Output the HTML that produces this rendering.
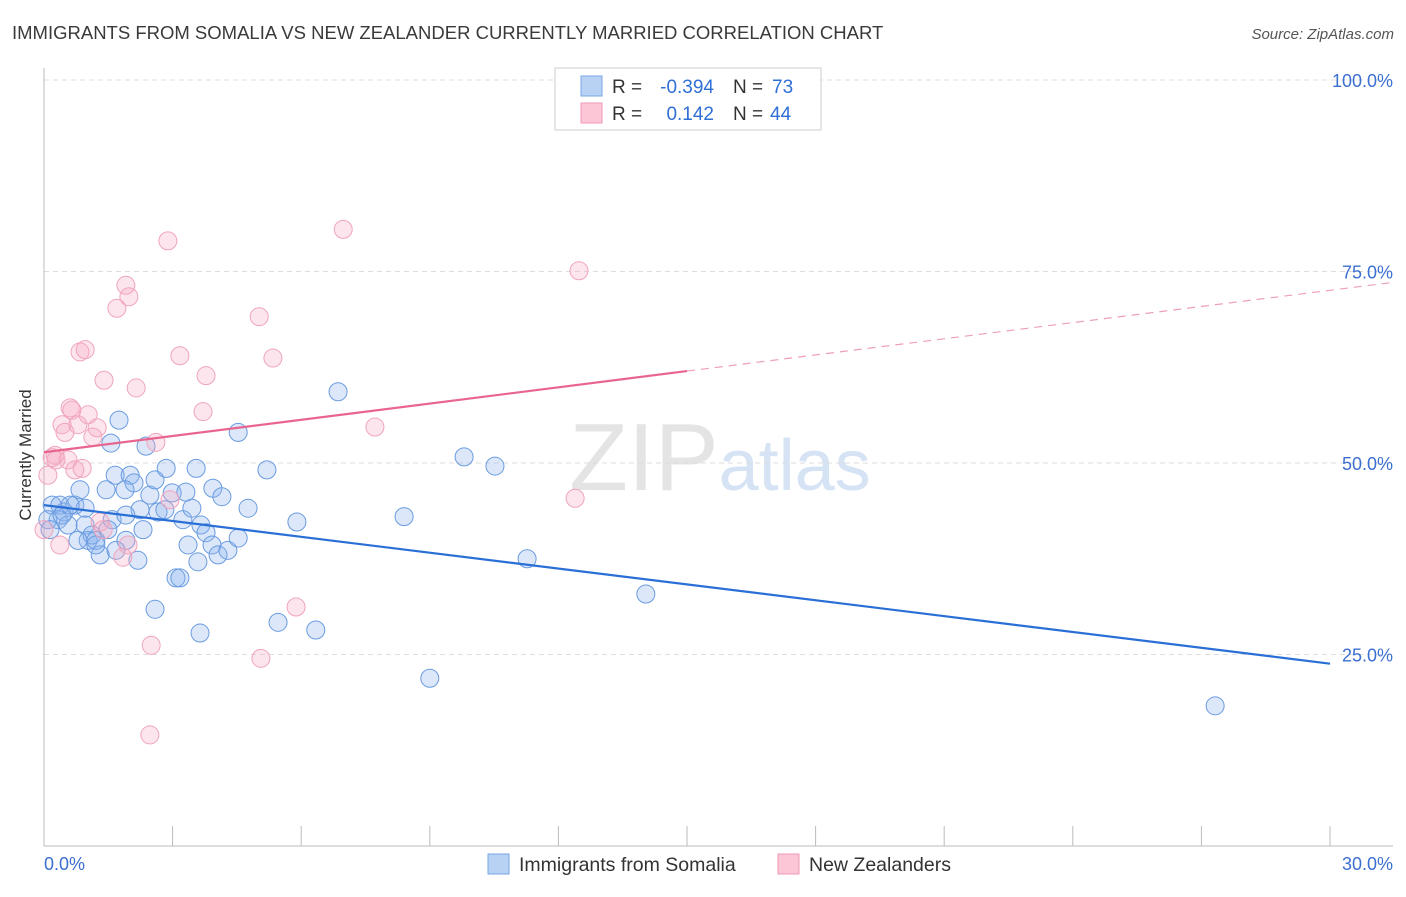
<!DOCTYPE html>
<html><head><meta charset="utf-8"><style>
body{margin:0;background:#fff;font-family:"Liberation Sans",sans-serif}
svg text{font-family:"Liberation Sans",sans-serif}
</style></head><body>
<svg id="chart" width="1406" height="892" xmlns="http://www.w3.org/2000/svg">
<text x="12" y="39" font-size="18.5" fill="#3a3a3a">IMMIGRANTS FROM SOMALIA VS NEW ZEALANDER CURRENTLY MARRIED CORRELATION CHART</text>
<text x="1394" y="39" font-size="15" fill="#555" text-anchor="end" font-style="italic">Source: ZipAtlas.com</text>
<text x="720" y="490" font-size="96" fill="#e4e4e4" text-anchor="middle" font-family="Liberation Serif">ZIP<tspan fill="#d5e3f5" font-family="Liberation Sans" font-size="72">atlas</tspan></text>
<g id="grid"></g><g id="axes"></g><g id="marks"></g><g id="lines"></g>
<text transform="translate(31,455) rotate(-90)" font-size="17" fill="#333" text-anchor="middle">Currently Married</text>
<g>
<rect x="555" y="68" width="266" height="62" fill="#fff" stroke="#ccc"/>
<rect x="581" y="76" width="21" height="20" fill="#b8d2f4" stroke="#7aa6e6"/>
<rect x="581" y="103" width="21" height="20" fill="#fcc6d6" stroke="#ef9ab4"/>
<text x="612" y="93" font-size="19" fill="#333">R =</text>
<text x="714" y="93" font-size="19" fill="#2f6fd6" text-anchor="end">-0.394</text>
<text x="733" y="93" font-size="19" fill="#333">N =</text>
<text x="772" y="93" font-size="19" fill="#2f6fd6">73</text>
<text x="612" y="120" font-size="19" fill="#333">R =</text>
<text x="714" y="120" font-size="19" fill="#2f6fd6" text-anchor="end">0.142</text>
<text x="733" y="120" font-size="19" fill="#333">N =</text>
<text x="770" y="120" font-size="19" fill="#2f6fd6">44</text>
</g>
<g>
<rect x="488" y="854" width="21" height="20" fill="#b8d2f4" stroke="#7aa6e6"/>
<text x="519" y="871" font-size="19.5" fill="#333">Immigrants from Somalia</text>
<rect x="778" y="854" width="21" height="20" fill="#fcc6d6" stroke="#ef9ab4"/>
<text x="809" y="871" font-size="19.5" fill="#333">New Zealanders</text>
</g>
</svg>
<script>
const blueX=[0.19,0.37,0.47,0.33,0.56,0.72,0.84,0.96,1.03,1.12,1.21,1.31,0.79,1.45,1.59,1.66,1.75,1.56,2.01,2.10,2.24,2.31,1.91,1.91,2.19,1.68,2.38,2.47,2.59,2.66,2.85,2.99,3.08,3.17,3.24,3.31,3.36,3.45,3.55,3.59,3.66,3.64,3.78,3.92,3.94,4.06,4.15,4.29,4.53,4.53,4.76,5.20,5.46,5.90,6.34,6.86,8.40,9.00,9.80,10.52,11.27,14.04,27.32,2.59,0.09,0.14,0.42,1.21,0.96,0.61,2.82,1.89,1.49];
const blueY=[44.5,44.5,43.6,42.6,41.9,44.5,46.5,41.9,39.9,40.6,39.9,38.0,39.9,46.5,42.6,48.4,55.6,52.6,48.4,47.4,43.9,41.3,43.2,39.9,37.3,38.6,52.2,45.8,47.8,43.6,49.3,46.1,35.0,35.0,42.6,46.2,39.3,44.1,49.3,37.1,41.9,27.8,40.9,39.3,46.7,38.0,45.6,38.6,40.2,54.0,44.1,49.1,29.2,42.3,28.2,59.3,43.0,21.9,50.8,49.6,37.5,32.9,18.3,30.9,42.6,41.3,43.2,39.3,44.1,44.5,43.9,46.5,41.3];
const pinkX=[0.09,0.19,0.28,0.37,0.42,0.49,0.56,0.61,0.65,0.72,0.79,0.84,0.89,0.96,1.03,1.14,1.24,1.31,1.38,1.40,1.70,1.91,1.98,2.15,1.84,1.96,2.50,2.47,2.61,2.89,2.94,3.17,3.71,3.78,5.02,5.06,5.34,5.88,6.98,7.72,12.39,12.48,0.0,0.26];
const pinkY=[48.4,50.7,50.4,39.3,55.0,54.0,50.4,57.2,56.9,49.1,55.0,64.5,49.3,64.8,56.3,53.4,54.6,42.3,41.3,60.8,70.2,73.2,71.7,59.8,37.7,39.3,26.2,14.5,52.7,79.0,45.2,64.0,56.7,61.4,69.1,24.5,63.7,31.2,80.5,54.7,45.4,75.1,41.3,51.0];
const yTicks=[25,50,75,100];
const yTickLabels=["25.0%","50.0%","75.0%","100.0%"];
const xTicks=[0,3,6,9,12,15,18,21,24,27,30];
const blueTrend=[[0,44.5],[30,23.8]];
const pinkTrendSolid=[[0,51.4],[15,62.0]];
const pinkTrendDash=[[15,62.0],[31.5,73.6]];

const NS="http://www.w3.org/2000/svg";
const X0=44,X1=1330,Y0=846,Y1=80;
const sx=v=>X0+v/30*(X1-X0);
const sy=v=>Y0-v/100*(Y0-Y1);
function mk(tag,attrs,parent){const e=document.createElementNS(NS,tag);for(const k in attrs)e.setAttribute(k,attrs[k]);document.getElementById(parent).appendChild(e);return e;}
yTicks.forEach((t,i)=>{
  const g=mk('line',{x1:X0,x2:1393,y1:sy(t),y2:sy(t),stroke:'#ddd','stroke-dasharray':'5,4'},'grid');
  
  
  const l=mk('text',{x:1393,y:sy(t)+7,'font-size':18,fill:'#3b6fd0','text-anchor':'end'},'grid');
  l.textContent=yTickLabels[i];
  
  
});
const ax=mk('line',{x1:X0,x2:X0,y1:68,y2:Y0,stroke:'#bbb'},'axes');


const bx=mk('line',{x1:X0,x2:1393,y1:Y0,y2:Y0,stroke:'#bbb'},'axes');


xTicks.forEach(t=>{
  const e=mk('line',{x1:sx(t),x2:sx(t),y1:826,y2:Y0,stroke:'#bbb'},'axes');
  
  
});
const xl0=mk('text',{x:44,y:870,'font-size':18,fill:'#3b6fd0'},'axes');xl0.textContent='0.0%';


const xl1=mk('text',{x:1393,y:870,'font-size':18,fill:'#3b6fd0','text-anchor':'end'},'axes');xl1.textContent='30.0%';


blueX.forEach((v,i)=>{
  const c=mk('circle',{cx:sx(v),cy:sy(blueY[i]),r:9,fill:'rgba(140,180,240,0.3)',stroke:'#6a9be0','stroke-width':1},'marks');
  
  
});
pinkX.forEach((v,i)=>{
  const c=mk('circle',{cx:sx(v),cy:sy(pinkY[i]),r:9,fill:'rgba(248,170,195,0.3)',stroke:'#efa5bc','stroke-width':1},'marks');
  
  
});
function tl(p,color,dash,name,w){
  const e=mk('line',{x1:sx(p[0][0]),y1:sy(p[0][1]),x2:sx(p[1][0]),y2:sy(p[1][1]),stroke:color,'stroke-width':w},'lines');
  if(dash)e.setAttribute('stroke-dasharray',dash);
  
  
}
tl(blueTrend,'#2a6fd6',null,'somalia-trend-line',2.2);
tl(pinkTrendSolid,'#e8658f',null,'new-zealander-trend-line',2.2);
tl(pinkTrendDash,'#eea0b8','8,6','new-zealander-trend-extension',1.2);
</script>
</body></html>
